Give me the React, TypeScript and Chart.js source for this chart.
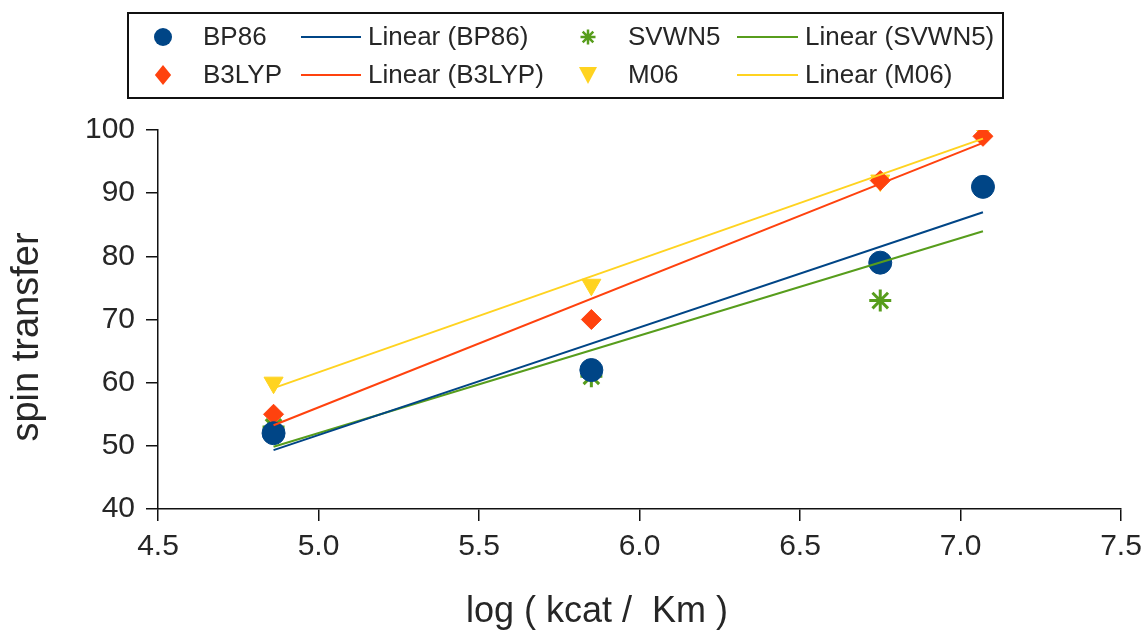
import React, { useEffect, useRef } from "react";
import { Chart, registerables } from "chart.js";

Chart.register(...registerables);

const X_VALUES = [4.86, 5.85, 6.75, 7.07];
const BP86 = [52, 62, 79, 91];
const B3LYP = [55, 70, 92, 99];
const SVWN5 = [53, 61, 73, 91];
const M06 = [60, 75.5, 92, 100];

const SERIES_NAMES = ["BP86", "B3LYP", "SVWN5", "M06"];
const SERIES_COLORS = ["#004586", "#ff420e", "#579d1c", "#ffd320"];
const X_TITLE = "log ( kcat /  Km )";
const Y_TITLE = "spin transfer";

const FONT = "'Liberation Sans', Arial, sans-serif";
const TEXT_COLOR = "#262626";

function fitLine(xs: number[], ys: number[]) {
  const n = xs.length;
  const mx = xs.reduce((a, b) => a + b, 0) / n;
  const my = ys.reduce((a, b) => a + b, 0) / n;
  let sxy = 0, sxx = 0;
  for (let i = 0; i < n; i++) {
    sxy += (xs[i] - mx) * (ys[i] - my);
    sxx += (xs[i] - mx) * (xs[i] - mx);
  }
  const slope = sxy / sxx;
  const x0 = Math.min(...xs), x1 = Math.max(...xs);
  return [
    { x: x0, y: my + slope * (x0 - mx) },
    { x: x1, y: my + slope * (x1 - mx) },
  ];
}

function drawMarker(ctx: CanvasRenderingContext2D, style: string, x: number, y: number, r: number, color: string) {
  ctx.save();
  ctx.fillStyle = color;
  ctx.strokeStyle = color;
  ctx.beginPath();
  if (style === "circle") {
    ctx.arc(x, y, r, 0, Math.PI * 2);
    ctx.fill();
  } else if (style === "rectRot") {
    ctx.moveTo(x, y - r * 1.1);
    ctx.lineTo(x + r * 0.9, y);
    ctx.lineTo(x, y + r * 1.1);
    ctx.lineTo(x - r * 0.9, y);
    ctx.closePath();
    ctx.fill();
  } else if (style === "triangleDown") {
    ctx.moveTo(x - r, y - r * 0.9);
    ctx.lineTo(x + r, y - r * 0.9);
    ctx.lineTo(x, y + r);
    ctx.closePath();
    ctx.fill();
  } else if (style === "star") {
    ctx.lineWidth = 2.5;
    for (let k = 0; k < 4; k++) {
      const a = (k * Math.PI) / 4;
      ctx.moveTo(x - Math.cos(a) * r, y - Math.sin(a) * r);
      ctx.lineTo(x + Math.cos(a) * r, y + Math.sin(a) * r);
    }
    ctx.stroke();
  }
  ctx.restore();
}

const legendPlugin = {
  id: "boxLegend",
  afterDraw(chart: any) {
    const ctx: CanvasRenderingContext2D = chart.ctx;
    ctx.save();
    ctx.strokeStyle = "#111";
    ctx.lineWidth = 2;
    ctx.strokeRect(128, 13, 875, 85);
    ctx.font = `26px ${FONT}`;
    ctx.textBaseline = "middle";
    const rows = [37, 75];
    const items = [
      [0, 2],
      [1, 3],
    ];
    const markerStyles = ["circle", "rectRot", "star", "triangleDown"];
    const colX = [
      { marker: 163, text: 203, lineA: 301, lineB: 361, ltext: 368 },
      { marker: 588, text: 628, lineA: 737, lineB: 798, ltext: 805 },
    ];
    rows.forEach((ry, ri) => {
      items[ri].forEach((si, ci) => {
        const c = colX[ci];
        drawMarker(ctx, markerStyles[si], c.marker, ry, si === 2 ? 7.5 : 9, SERIES_COLORS[si]);
        ctx.fillStyle = TEXT_COLOR;
        ctx.fillText(SERIES_NAMES[si], c.text, ry + 1);
        ctx.strokeStyle = SERIES_COLORS[si];
        ctx.lineWidth = 2;
        ctx.beginPath();
        ctx.moveTo(c.lineA, ry);
        ctx.lineTo(c.lineB, ry);
        ctx.stroke();
        ctx.fillText(`Linear (${SERIES_NAMES[si]})`, c.ltext, ry + 1);
      });
    });
    // axis titles
    ctx.fillStyle = TEXT_COLOR;
    ctx.textAlign = "center";
    ctx.textBaseline = "middle";
    ctx.font = `36px ${FONT}`;
    ctx.fillText(X_TITLE, 597, 612);
    ctx.font = `38px ${FONT}`;
    ctx.translate(28, 337);
    ctx.rotate(-Math.PI / 2);
    ctx.fillText(Y_TITLE, 0, 0);
    ctx.restore();
  },
};

export default function App() {
  const ref = useRef<HTMLCanvasElement>(null);
  useEffect(() => {
    const pts = (ys: number[]) => X_VALUES.map((x, i) => ({ x, y: ys[i] }));
    const all = [BP86, B3LYP, SVWN5, M06];
    const markerStyles: any[] = ["circle", "rectRot", "star", "triangle"];
    const markerOrder = [1, 2, 4, 3];
    const markerRadius = [11.5, 10, 11, 11];
    const datasets: any[] = [];
    all.forEach((ys, i) => {
      datasets.push({
        type: "scatter",
        label: SERIES_NAMES[i],
        data: pts(ys),
        pointStyle: markerStyles[i],
        pointRotation: i === 3 ? 180 : 0,
        pointRadius: markerRadius[i],
        pointBackgroundColor: SERIES_COLORS[i],
        pointBorderColor: SERIES_COLORS[i],
        pointBorderWidth: i === 2 ? 3 : 1,
        showLine: false,
        order: markerOrder[i],
      });
      datasets.push({
        type: "line",
        label: `Linear (${SERIES_NAMES[i]})`,
        data: fitLine(X_VALUES, ys),
        borderColor: SERIES_COLORS[i],
        borderWidth: 2,
        pointRadius: 0,
        fill: false,
        order: 0,
      });
    });
    const chart = new Chart(ref.current!, {
      type: "scatter",
      data: { datasets },
      plugins: [legendPlugin],
      options: {
        animation: false,
        responsive: true,
        maintainAspectRatio: false,
        layout: { padding: { left: 0, right: 23, top: 130, bottom: 0 } },
        plugins: { legend: { display: false }, tooltip: { enabled: false } },
        scales: {
          x: {
            type: "linear",
            min: 4.5,
            max: 7.5,
            afterFit: (s: any) => {
              s.height = 124;
              s.paddingLeft = 0;
              s.paddingRight = 0;
            },
            ticks: {
              stepSize: 0.5,
              color: TEXT_COLOR,
              font: { family: FONT, size: 30 },
              padding: 8,
              callback: (v: any) => Number(v).toFixed(1),
              maxRotation: 0,
            },
            grid: { drawOnChartArea: false, drawTicks: true, tickLength: 12, color: "#111", lineWidth: 1.5 },
            border: { display: true, color: "#111", width: 1.5 },
          },
          y: {
            type: "linear",
            min: 40,
            max: 100,
            afterFit: (s: any) => {
              s.width = 158;
              s.paddingTop = 0;
              s.paddingBottom = 0;
            },
            ticks: {
              stepSize: 10,
              color: TEXT_COLOR,
              font: { family: FONT, size: 30 },
              padding: 11,
            },
            grid: { drawOnChartArea: false, drawTicks: true, tickLength: 12, color: "#111", lineWidth: 1.5 },
            border: { display: true, color: "#111", width: 1.5 },
          },
        },
      },
    });
    return () => chart.destroy();
  }, []);
  return (
    <div style={{ position: "fixed", left: 0, top: 0, width: 1144, height: 633, background: "#fff" }}>
      <canvas ref={ref} />
    </div>
  );
}
